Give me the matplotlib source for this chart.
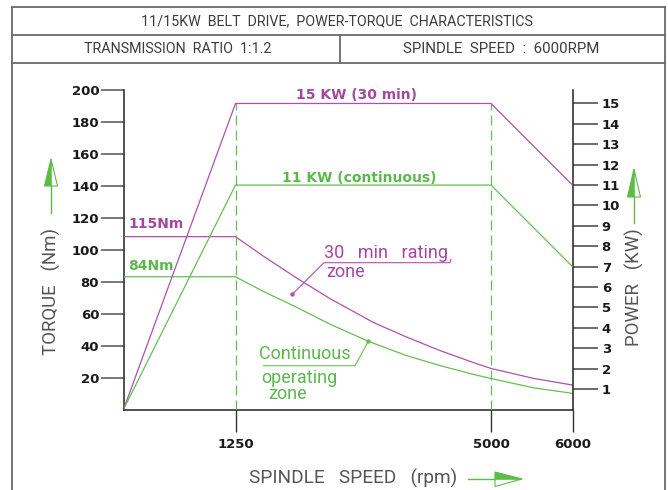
import numpy as np
import matplotlib
matplotlib.use("Agg")
import matplotlib.pyplot as plt
from matplotlib.patches import Polygon

# ---------------- data ----------------
speed_corner = [0, 1250, 5000, 6000]
power_30min = [0, 15, 15, 11]          # kW
power_cont = [0, 11, 11, 7]            # kW

torque_speed_30 = [0, 1250, 1658, 2148, 2637, 3273, 3763, 4251, 4740, 5000, 5519, 6000]
torque_30min = [108.2, 108.2, 96.0, 82.3, 69.4, 54.5, 45.3, 36.9, 29.4, 25.7, 19.5, 15.3]
torque_speed_cont = [0, 1250, 1658, 2148, 2637, 3199, 3763, 4251, 4740, 5000, 5519, 6000]
torque_cont = [83.1, 83.1, 73.9, 64.0, 53.4, 42.7, 33.7, 27.5, 22.0, 19.4, 13.6, 10.1]

x_ticks = [1250, 5000, 6000]
x_tick_labels = ["1250", "5000", "6000"]
torque_ticks = [20, 40, 60, 80, 100, 120, 140, 160, 180, 200]
power_ticks = list(range(1, 16))

title_text = "11/15KW  BELT  DRIVE,  POWER-TORQUE  CHARACTERISTICS"
sub_left = "TRANSMISSION  RATIO  1:1.2"
sub_right = "SPINDLE  SPEED  :  6000RPM"

# ---------------- style ----------------
PURPLE = "#b04fb0"
PURPLE_T = "#a4479e"
GREEN = "#62c050"
GREEN_T = "#5cb84c"
FRAME = "#6a6a6a"
CAD = ["Roboto", "DejaVu Sans"]
BOLD = ["DejaVu Sans"]

W, H = 668, 490
fig = plt.figure(figsize=(W / 100, H / 100), dpi=100, facecolor="white")

# non-linear speed axis (as drawn in the original)
SCALE_RPM = [0, 1250, 5000, 6000]
SCALE_POS = [0, 112, 367.5, 449]


def fwd(v):
    return np.interp(v, SCALE_RPM, SCALE_POS)


def inv(p):
    return np.interp(p, SCALE_POS, SCALE_RPM)


ax = fig.add_axes([123.5 / W, (H - 409.5) / H, 449 / W, 319.5 / H])
ax.set_facecolor("none")
ax.set_xscale("function", functions=(fwd, inv))
ax.set_xlim(0, 6000)
ax.set_ylim(0, 200)
ax2 = ax.twinx()
ax2.set_ylim(0, 15.66)

for s in ["top", "right"]:
    ax.spines[s].set_visible(False)
for s in ["top", "left", "bottom"]:
    ax2.spines[s].set_visible(False)
for sp in [ax.spines["left"], ax.spines["bottom"], ax2.spines["right"]]:
    sp.set_color("#222222")
    sp.set_linewidth(1.1)

ax.set_xticks(x_ticks, x_tick_labels, fontweight="bold", family=BOLD)
ax.tick_params(axis="x", direction="out", length=15.5, width=1.0, color="#333333",
               pad=5, labelsize=9.5, labelcolor="#1a1a1a")
ax.set_yticks(torque_ticks, [str(t) for t in torque_ticks], fontweight="bold", family=BOLD)
ax.tick_params(axis="y", direction="out", length=16.5, width=1.1, color="#555555",
               pad=1, labelsize=9.5, labelcolor="#1a1a1a")
ax2.set_yticks(power_ticks, [str(t) for t in power_ticks], fontweight="bold", family=BOLD)
ax2.tick_params(axis="y", direction="out", length=18, width=1.1, color="#444444",
                pad=3, labelsize=9.5, labelcolor="#1a1a1a")

# guide lines at the corner speeds
ax2.vlines([speed_corner[1], speed_corner[2]], 0, max(power_30min), colors=GREEN,
           linestyles=(0, (8, 4)), lw=0.9, zorder=1)

# power curves
ax2.plot(speed_corner, power_30min, color=PURPLE, lw=0.9, zorder=3)
ax2.plot(speed_corner, power_cont, color=GREEN, lw=0.9, zorder=3)
# torque curves
ax.plot(torque_speed_30, torque_30min, color=PURPLE, lw=0.9, zorder=3)
ax.plot(torque_speed_cont, torque_cont, color=GREEN, lw=0.9, zorder=3)

# bold labels
ax.text(50, 116, "115Nm", color=PURPLE_T, fontsize=10, fontweight="bold",
        family=BOLD, ha="left", va="center")
ax.text(50, 90, "84Nm", color=GREEN_T, fontsize=10, fontweight="bold",
        family=BOLD, ha="left", va="center")
ax.text(3026, 197, "15 KW (30 min)", color=PURPLE_T, fontsize=10, fontweight="bold",
        family=BOLD, ha="center", va="center")
ax.text(3063, 145, "11 KW (continuous)", color=GREEN_T, fontsize=10, fontweight="bold",
        family=BOLD, ha="center", va="center")

# zone annotations
ax.text(2549, 98, "30   min   rating", color=PURPLE_T, fontsize=13, family=CAD,
        ha="left", va="center")
ax.text(2578, 86.3, "zone", color=PURPLE_T, fontsize=13, family=CAD,
        ha="left", va="center")
ax.plot([2084, 2549, 4398, 4410], [72.1, 91.9, 91.9, 94], color=PURPLE, lw=0.8)
ax.plot([2084], [72.1], "o", color=PURPLE, ms=2.2)

ax.text(1595, 34.6, "Continuous", color=GREEN_T, fontsize=13, family=CAD,
        ha="left", va="center")
ax.text(1635, 19.9, "operating", color=GREEN_T, fontsize=13, family=CAD,
        ha="left", va="center")
ax.text(1727, 9.4, "zone", color=GREEN_T, fontsize=13, family=CAD,
        ha="left", va="center")
ax.plot([1660, 3004, 3199], [27.4, 27.4, 42.7], color=GREEN, lw=0.8)
ax.plot([3199], [42.7], "o", color=GREEN, ms=2.2)

# ---------------- overlay in pixel coordinates ----------------
ov = fig.add_axes([0, 0, 1, 1], zorder=5)
ov.set_xlim(0, W)
ov.set_ylim(H, 0)
ov.axis("off")

lw_f = 1.3
ov.plot([12, 12], [7, H], color=FRAME, lw=lw_f)
ov.plot([665, 665], [7, H], color=FRAME, lw=lw_f)
for yy in [7, 35, 63]:
    ov.plot([12, 665], [yy, yy], color=FRAME, lw=lw_f)
ov.plot([340, 340], [35, 63], color=FRAME, lw=lw_f)

TXT = "#3c3c3c"
ov.text(337, 21, title_text, fontsize=10.3, family=CAD, color=TXT, ha="center", va="center")
ov.text(177.5, 49, sub_left, fontsize=10.3, family=CAD, color=TXT, ha="center", va="center")
ov.text(501, 49, sub_right, fontsize=10.8, family=CAD, color=TXT, ha="center", va="center")

LBL = "#555555"
ov.text(51, 291, "TORQUE   (Nm)", fontsize=13.4, family=CAD, color=LBL,
        rotation=90, ha="center", va="center")
ov.text(634, 287.5, "POWER   (KW)", fontsize=13.4, family=CAD, color=LBL,
        rotation=90, ha="center", va="center")
ov.text(353.5, 478, "SPINDLE   SPEED   (rpm)", fontsize=13.7, family=CAD, color=LBL,
        ha="center", va="center")

AG = "#5dbb46"
# torque arrow
ov.plot([51, 51], [213, 186], color=AG, lw=1.0)
ov.add_patch(Polygon([(51, 159), (44.5, 186), (51, 186)], closed=True, fc=AG, ec=AG, lw=0.8))
ov.add_patch(Polygon([(51, 159), (57.5, 186), (51, 186)], closed=True, fc="none", ec=AG, lw=0.8))
# power arrow
ov.plot([634, 634], [223, 197], color=AG, lw=1.0)
ov.add_patch(Polygon([(634, 169), (627.5, 197), (634, 197)], closed=True, fc=AG, ec=AG, lw=0.8))
ov.add_patch(Polygon([(634, 169), (640.5, 197), (634, 197)], closed=True, fc="none", ec=AG, lw=0.8))
# speed arrow
ov.plot([468, 495], [479, 479], color=AG, lw=1.0)
ov.add_patch(Polygon([(522, 479), (495, 472), (495, 479)], closed=True, fc=AG, ec=AG, lw=0.8))
ov.add_patch(Polygon([(522, 479), (495, 486.5), (495, 479)], closed=True, fc="none", ec=AG, lw=0.8))

fig.savefig("out.png", dpi=100, facecolor="white")
